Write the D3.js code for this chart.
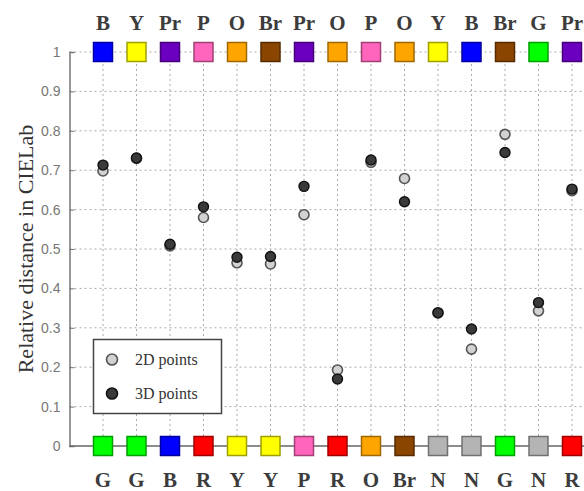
<!DOCTYPE html>
<html>
<head>
<meta charset="utf-8">
<script src="https://cdn.jsdelivr.net/npm/d3@7"></script>
<style>
  html, body { margin: 0; padding: 0; background: #fff; }
  svg { display: block; }
</style>
</head>
<body>
<svg id="chart" width="584" height="491"></svg>
<script>
// Colour pairs compared along the x axis (upper and lower colour of each pair)
const topLabels    = ["B", "Y", "Pr", "P", "O", "Br", "Pr", "O", "P", "O", "Y", "B", "Br", "G", "Pr"];
const bottomLabels = ["G", "G", "B", "R", "Y", "Y", "P", "R", "O", "Br", "N", "N", "G", "N", "R"];

// Relative CIELab distance of each pair
const values2D = [0.698, 0.730, 0.508, 0.580, 0.465, 0.462, 0.587, 0.193, 0.720, 0.679, 0.338, 0.246, 0.791, 0.343, 0.648];
const values3D = [0.713, 0.731, 0.512, 0.607, 0.479, 0.481, 0.659, 0.170, 0.726, 0.620, 0.338, 0.297, 0.745, 0.364, 0.652];

const yTicks = [0, 0.1, 0.2, 0.3, 0.4, 0.5, 0.6, 0.7, 0.8, 0.9, 1];
const legendLabels = ["2D points", "3D points"];

// Swatch colour for each colour-name abbreviation
const swatch = {
  B: "#0000ff", Y: "#ffff00", Pr: "#6c00c0", P: "#ff66bb", O: "#ffa500",
  Br: "#8a4500", G: "#00ff00", R: "#ff0000", N: "#b4b4b4"
};

const svg = d3.select("#chart");
const W = 584;

const x = d3.scaleLinear().domain([0, 16]).range([69.5, 605.5]);
const y = d3.scaleLinear().domain([0, 1]).range([446, 52]);
const idx = d3.range(topLabels.length);
const xi = i => x(i + 1);

const serif = "'Liberation Serif', 'Times New Roman', serif";
const sans = "'Liberation Sans', Arial, sans-serif";

// Dotted grid
const grid = svg.append("g").attr("stroke", "#aaa").attr("stroke-width", 1)
  .attr("stroke-dasharray", "2,3");
grid.selectAll("line.h").data(yTicks.filter(t => t > 0)).join("line")
  .attr("class", "h")
  .attr("x1", x(0)).attr("x2", W)
  .attr("y1", d => y(d)).attr("y2", d => y(d));
grid.selectAll("line.v").data(idx).join("line")
  .attr("class", "v")
  .attr("x1", xi).attr("x2", xi)
  .attr("y1", y(0)).attr("y2", y(1));

// Y axis
const yAxis = d3.axisLeft(y).tickValues(yTicks).tickSize(-5).tickPadding(9)
  .tickFormat(d => d === 0 || d === 1 ? String(d) : d3.format(".1f")(d));
const ya = svg.append("g").attr("transform", `translate(${x(0)},0)`).call(yAxis);
ya.select(".domain").attr("stroke", "#777").attr("stroke-width", 1.5);
ya.selectAll(".tick line").attr("stroke", "#777").attr("stroke-width", 1);
ya.selectAll(".tick text").attr("font-family", sans).attr("font-size", 14).attr("fill", "#777");

// Bottom axis line
svg.append("line")
  .attr("x1", x(0)).attr("x2", W)
  .attr("y1", y(0)).attr("y2", y(0))
  .attr("stroke", "#666").attr("stroke-width", 1.5);

// Y axis title
svg.append("text")
  .attr("transform", `translate(33,${(y(0) + y(1)) / 2}) rotate(-90)`)
  .attr("text-anchor", "middle")
  .attr("font-family", serif).attr("font-size", 22).attr("fill", "#333")
  .text("Relative distance in CIELab");

// Colour swatches along top and bottom
const sq = 19;
function swatches(labels, v) {
  svg.append("g").selectAll("rect").data(idx).join("rect")
    .attr("x", i => xi(i) - sq / 2).attr("y", y(v) - sq / 2)
    .attr("width", sq).attr("height", sq)
    .attr("fill", i => swatch[labels[i]])
    .attr("stroke", i => d3.color(swatch[labels[i]]).darker(1.3))
    .attr("stroke-width", 1.5);
}
swatches(topLabels, 1);
swatches(bottomLabels, 0);

// Colour-name labels
svg.append("g").selectAll("text").data(idx).join("text")
  .attr("x", xi).attr("y", 30)
  .attr("text-anchor", "middle")
  .attr("font-family", serif).attr("font-size", 21).attr("font-weight", "bold").attr("fill", "#3c3c3c")
  .text(i => topLabels[i]);
svg.append("g").selectAll("text").data(idx).join("text")
  .attr("x", xi).attr("y", 487)
  .attr("text-anchor", "middle")
  .attr("font-family", serif).attr("font-size", 21).attr("font-weight", "bold").attr("fill", "#3c3c3c")
  .text(i => bottomLabels[i]);

// Data points: 2D first, 3D on top
const r = 5;
svg.append("g").selectAll("circle").data(idx).join("circle")
  .attr("cx", xi).attr("cy", i => y(values2D[i])).attr("r", r)
  .attr("fill", "#d2d2d2").attr("stroke", "#555").attr("stroke-width", 1.6);
svg.append("g").selectAll("circle").data(idx).join("circle")
  .attr("cx", xi).attr("cy", i => y(values3D[i])).attr("r", r)
  .attr("fill", "#3a3a3a").attr("stroke", "#111").attr("stroke-width", 1.4);

// Legend
const lg = svg.append("g");
lg.append("rect")
  .attr("x", 93.5).attr("y", 339.5).attr("width", 128).attr("height", 74)
  .attr("fill", "#fff").attr("stroke", "#444").attr("stroke-width", 1.5);
const legendStyles = [
  { fill: "#d2d2d2", stroke: "#555" },
  { fill: "#3a3a3a", stroke: "#111" }
];
legendLabels.forEach((lab, k) => {
  const cy = 359.5 + k * 34;
  lg.append("circle").attr("cx", 112).attr("cy", cy).attr("r", 5.5)
    .attr("fill", legendStyles[k].fill).attr("stroke", legendStyles[k].stroke).attr("stroke-width", 1.6);
  lg.append("text").attr("x", 135).attr("y", cy + 5)
    .attr("font-family", serif).attr("font-size", 16).attr("fill", "#333")
    .text(lab);
});
</script>
</body>
</html>
